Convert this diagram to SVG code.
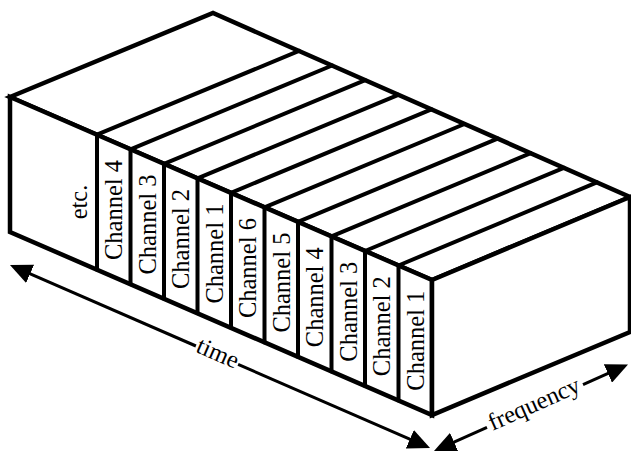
<svg xmlns="http://www.w3.org/2000/svg" width="631" height="451" viewBox="0 0 631 451">
<style>
.face{fill:#fff;stroke:#000;stroke-width:4.5;stroke-linejoin:miter;stroke-miterlimit:10}
.div{stroke:#000;stroke-width:4;fill:none;stroke-linecap:round}
.lbl{font-family:"Liberation Serif","Times New Roman",serif;font-size:24.5px;fill:#000;text-anchor:middle}
.ax{stroke:#000;stroke-width:3;fill:none}
</style>
<defs>
<marker id="ah" viewBox="0 -10 22 20" refX="13" refY="0" markerWidth="22" markerHeight="20" markerUnits="userSpaceOnUse" orient="auto-start-reverse">
<path d="M0,-10 L22,0 L0,10 z" fill="#000"/>
</marker>
</defs>
<rect width="631" height="451" fill="#fff"/>
<g id="box">
<polygon class="face" points="10,97 213,13 630,197 432,280"/>
<polygon class="face" points="10,97 432,280 432,415 10,232"/>
<polygon class="face" points="432,280 630,197 630,332 432,415"/>
</g>
<g id="stripes">
<path class="div" d="M97,134.7 L97,269.7 M97,134.7 L299,50.9"/>
<path class="div" d="M130.5,149.3 L130.5,284.3 M130.5,149.3 L332.1,65.5"/>
<path class="div" d="M164,163.8 L164,298.8 M164,163.8 L365.2,80.2"/>
<path class="div" d="M197.5,178.3 L197.5,313.3 M197.5,178.3 L398.3,94.8"/>
<path class="div" d="M231,192.8 L231,327.8 M231,192.8 L431.4,109.4"/>
<path class="div" d="M264.5,207.4 L264.5,342.4 M264.5,207.4 L464.5,124"/>
<path class="div" d="M298,221.9 L298,356.9 M298,221.9 L497.6,138.6"/>
<path class="div" d="M331.5,236.4 L331.5,371.4 M331.5,236.4 L530.7,153.2"/>
<path class="div" d="M365,251 L365,386 M365,251 L563.8,167.8"/>
<path class="div" d="M398.5,265.5 L398.5,400.5 M398.5,265.5 L596.9,182.4"/>
</g>
<g id="etc"><text class="lbl" transform="translate(86.5,202) rotate(-90)">etc.</text></g>
<g id="col1"><text class="lbl" transform="translate(122.25,210) rotate(-90)">Channel 4</text></g>
<g id="col2"><text class="lbl" transform="translate(155.75,224.5) rotate(-90)">Channel 3</text></g>
<g id="col3"><text class="lbl" transform="translate(189.25,239) rotate(-90)">Channel 2</text></g>
<g id="col4"><text class="lbl" transform="translate(222.75,253.6) rotate(-90)">Channel 1</text></g>
<g id="col5"><text class="lbl" transform="translate(256.25,268.1) rotate(-90)">Channel 6</text></g>
<g id="col6"><text class="lbl" transform="translate(289.75,282.6) rotate(-90)">Channel 5</text></g>
<g id="col7"><text class="lbl" transform="translate(323.25,297.2) rotate(-90)">Channel 4</text></g>
<g id="col8"><text class="lbl" transform="translate(356.75,311.7) rotate(-90)">Channel 3</text></g>
<g id="col9"><text class="lbl" transform="translate(390.25,326.2) rotate(-90)">Channel 2</text></g>
<g id="col10"><text class="lbl" transform="translate(423.75,340.7) rotate(-90)">Channel 1</text></g>
<g id="connectors">
<line class="ax" x1="18.2" y1="268.6" x2="195.9" y2="346" marker-start="url(#ah)"/>
<line class="ax" x1="238.1" y1="364.4" x2="421.8" y2="444.4" marker-end="url(#ah)"/>
<line class="ax" x1="442.2" y1="447.3" x2="487" y2="427.4" marker-start="url(#ah)"/>
<line class="ax" x1="583" y1="384.6" x2="619.8" y2="368.2" marker-end="url(#ah)"/>
<text class="lbl" transform="translate(217,355.2) rotate(23.55)" y="5.5">time</text>
<text class="lbl" transform="translate(535,406) rotate(-24.03)" y="5.5">frequency</text>
</g>
</svg>
